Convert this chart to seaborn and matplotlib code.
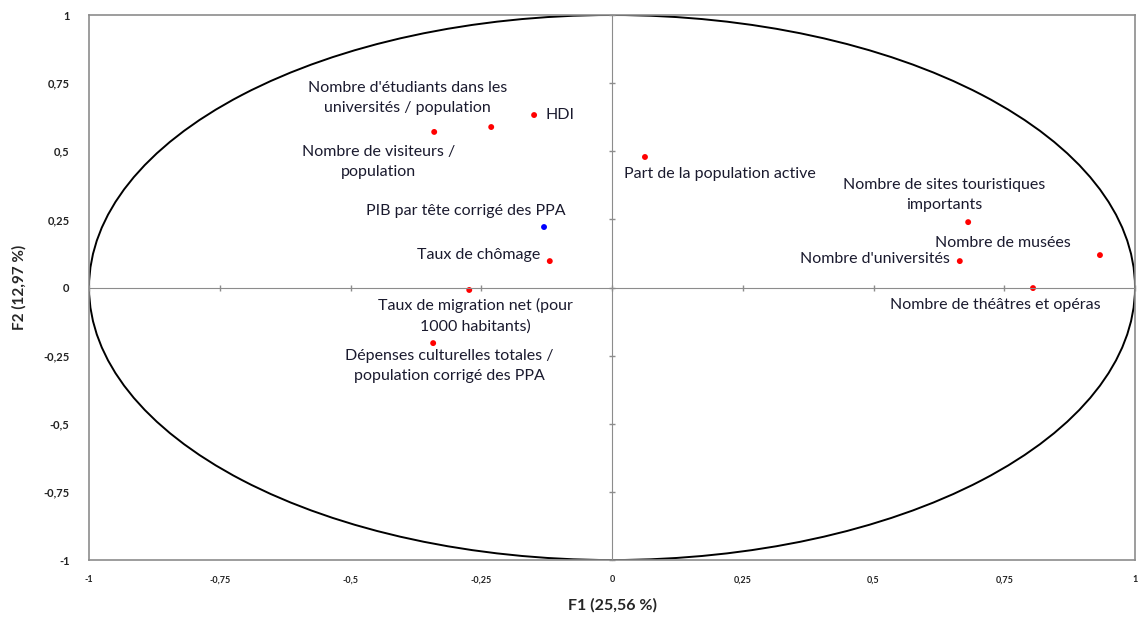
import numpy as np
import pandas as pd
import seaborn as sns
import matplotlib.pyplot as plt
from matplotlib.patches import Circle
from matplotlib.ticker import FuncFormatter, MultipleLocator

# variables of the correlation circle (F1, F2)
labels = [
    "HDI",
    "Nombre d'étudiants dans les\nuniversités / population",
    "Nombre de visiteurs /\npopulation",
    "PIB par tête corrigé des PPA",
    "Taux de chômage",
    "Taux de migration net (pour\n1000 habitants)",
    "Dépenses culturelles totales /\npopulation corrigé des PPA",
    "Part de la population active",
    "Nombre de sites touristiques\nimportants",
    "Nombre d'universités",
    "Nombre de musées",
    "Nombre de théâtres et opéras",
]
f1 = [-0.149, -0.231, -0.340, -0.130, -0.119, -0.273, -0.342, 0.063, 0.681, 0.665, 0.933, 0.805]
f2 = [0.633, 0.589, 0.571, 0.222, 0.097, -0.009, -0.204, 0.479, 0.240, 0.097, 0.119, -0.002]
kind = ["active", "active", "active", "supp", "active", "active", "active",
        "active", "active", "active", "active", "active"]

# label placement: offset in pixels from the point, horizontal alignment
label_offsets = [
    (11, 0, "left"),
    (-84, 29, "center"),
    (-56, -30, "center"),
    (-78, 16, "center"),
    (-10, 6, "right"),
    (6, -26, "center"),
    (16, -23, "center"),
    (75, -17, "center"),
    (-24, 27, "center"),
    (-10, 2, "right"),
    (-97, 12, "center"),
    (-38, -17, "center"),
]

df = pd.DataFrame({"F1": f1, "F2": f2, "label": labels, "kind": kind})

sns.set_style("white")
plt.rcParams["font.family"] = ["Lato", "DejaVu Sans"]

fig = plt.figure(figsize=(11.43, 6.26), dpi=100)
ax = fig.add_axes([0.0779, 0.1054, 0.9151, 0.8706])

ax.set_xlim(-1, 1)
ax.set_ylim(-1, 1)

ax.add_patch(Circle((0, 0), 1, fill=False, edgecolor="black", linewidth=1.4, zorder=2))

sns.scatterplot(data=df, x="F1", y="F2", hue="kind",
                palette={"active": "red", "supp": "blue"},
                s=18, edgecolor="none", legend=False, ax=ax, zorder=4)

for (_, row), (dx, dy, ha) in zip(df.iterrows(), label_offsets):
    ax.annotate(row["label"], (row["F1"], row["F2"]), xytext=(dx, dy),
                textcoords="offset pixels", ha=ha, va="center",
                fontsize=11.5, color="#1a1a2e", linespacing=1.55, zorder=5)

comma = FuncFormatter(lambda v, _: ("%g" % v).replace(".", ","))
ax.xaxis.set_major_locator(MultipleLocator(0.25))
ax.yaxis.set_major_locator(MultipleLocator(0.25))
ax.xaxis.set_major_formatter(comma)
ax.yaxis.set_major_formatter(comma)
ax.tick_params(axis="both", length=0, colors="#222222")
ax.tick_params(axis="x", labelsize=6.5, pad=11)
ax.tick_params(axis="y", labelsize=8, pad=14)
for lab in ax.get_xticklabels() + ax.get_yticklabels():
    lab.set_fontweight("bold")

for sp in ax.spines.values():
    sp.set_color("#8c8c8c")
    sp.set_linewidth(1.2)

ax.set_xlabel("F1 (25,56 %)", fontsize=11.5, fontweight="bold", labelpad=10)
ax.set_ylabel("F2 (12,97 %)", fontsize=11, fontweight="bold", labelpad=12)

# central cross with tick marks
ax2 = fig.add_axes(ax.get_position(), sharex=ax, sharey=ax)
ax2.patch.set_visible(False)
ax2.spines["top"].set_visible(False)
ax2.spines["right"].set_visible(False)
ax2.spines["left"].set_position(("data", 0))
ax2.spines["bottom"].set_position(("data", 0))
ax2.spines["left"].set_color("#8c8c8c")
ax2.spines["bottom"].set_color("#8c8c8c")
ax2.tick_params(direction="inout", length=5, width=1, colors="#8c8c8c",
                bottom=True, left=True, labelleft=False, labelbottom=False)
ax2.set_xlabel("")
ax2.set_ylabel("")

fig.savefig("out.png", dpi=100)
